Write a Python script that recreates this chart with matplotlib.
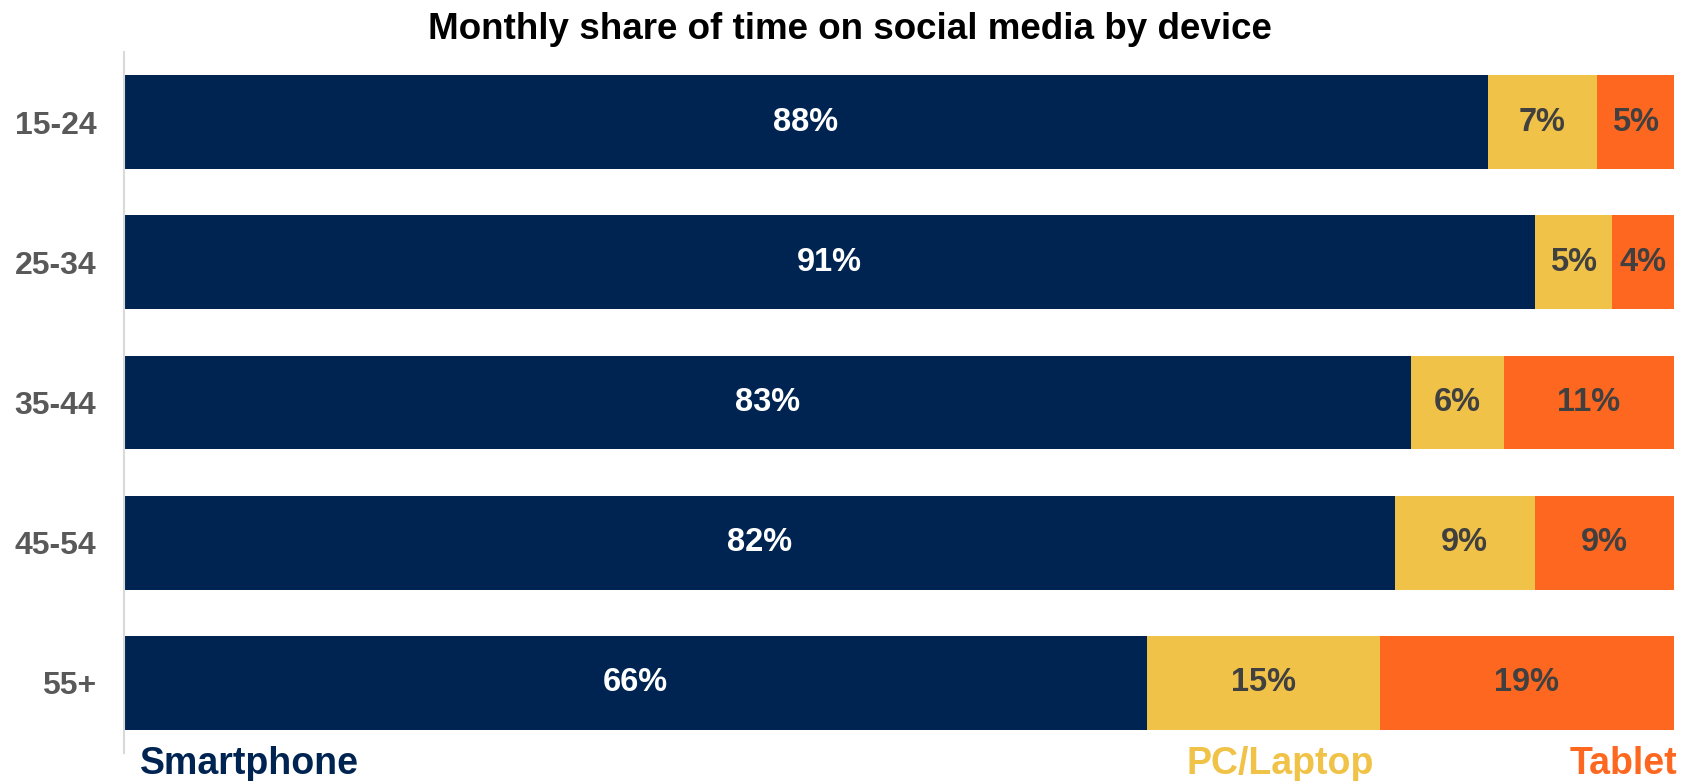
import matplotlib.pyplot as plt
import numpy as np

plt.rcParams['font.family'] = ['Liberation Sans', 'DejaVu Sans']
plt.rcParams['font.weight'] = 'bold'

age_groups = ['15-24', '25-34', '35-44', '45-54', '55+']
smartphone = [88, 91, 83, 82, 66]
pc_laptop = [7, 5, 6, 9, 15]
tablet = [5, 4, 11, 9, 19]

devices = ['Smartphone', 'PC/Laptop', 'Tablet']
colors = ['#002452', '#F0C247', '#FE671F']
label_colors = ['white', '#404040', '#404040']

fig = plt.figure(figsize=(16.87, 7.81), dpi=100)
ax = fig.add_axes([0.0735, 0.0359, 0.9188, 0.8975])

y = np.arange(len(age_groups))
left = np.zeros(len(age_groups))
for vals, col, tcol in zip([smartphone, pc_laptop, tablet], colors, label_colors):
    vals = np.array(vals, dtype=float)
    ax.barh(y, vals, left=left, height=0.67, color=col, edgecolor='none')
    for yi, l, v in zip(y, left, vals):
        ax.text(l + v / 2, yi, f'{v:.0f}%', ha='center', va='center',
                fontsize=23.5, fontweight='bold', color=tcol)
    left += vals

ax.set_xlim(0, 100)
ax.set_ylim(4.5, -0.5)
ax.set_yticks(y)
ax.set_yticklabels(age_groups, fontsize=23, fontweight='bold', color='#595959')
ax.tick_params(axis='y', length=0, pad=20)
ax.set_xticks([])
for side in ['top', 'right', 'bottom']:
    ax.spines[side].set_visible(False)
ax.spines['left'].set_color('#d9d9d9')
ax.spines['left'].set_linewidth(1.5)

# device names under the last bar, coloured like their segments
ax.text(1, 4.58, devices[0], ha='left', va='center', fontsize=27,
        fontweight='bold', color=colors[0], clip_on=False)
ax.text(74.6, 4.58, devices[1], ha='center', va='center', fontsize=27,
        fontweight='bold', color=colors[1], clip_on=False)
ax.text(100.2, 4.58, devices[2], ha='right', va='center', fontsize=27,
        fontweight='bold', color=colors[2], clip_on=False)

fig.text(0.504, 0.962, 'Monthly share of time on social media by device',
         ha='center', va='center', fontsize=26.5, fontweight='bold', color='black')

fig.savefig('out.png', dpi=100)
